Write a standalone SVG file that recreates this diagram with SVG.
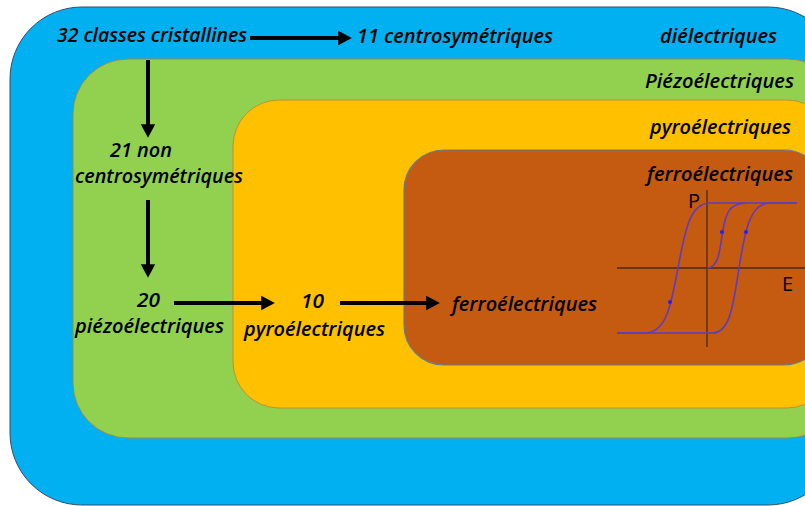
<svg xmlns="http://www.w3.org/2000/svg" width="805" height="506" viewBox="0 0 805 506">
<style>
text{font-family:"Open Sans","Liberation Sans",sans-serif;font-style:italic;font-weight:600;font-size:19px;fill:#000}
.ax{stroke:#4a2a10;stroke-width:1.3;fill:none}
.hy{stroke:#5b3cc4;stroke-width:1.6;fill:none}
.con{stroke:#000;stroke-width:4;fill:none}
</style>
<defs>
<marker id="ah" markerWidth="6" markerHeight="6" refX="0.2" refY="3" orient="auto" markerUnits="strokeWidth">
<path d="M0,1.2 L3.4,3 L0,4.8 Z" fill="#000"/>
</marker>
</defs>
<g id="dielectriques">
<rect x="10" y="7" width="830" height="498" rx="72" ry="72" fill="#00B0F0" stroke="#2f4f6f" stroke-width="1"/>
<text x="660" y="43" textLength="117" lengthAdjust="spacingAndGlyphs">diélectriques</text>
</g>
<g id="piezo">
<rect x="73" y="59" width="770" height="379" rx="55" ry="55" fill="#92D050" stroke="#9a8a4a" stroke-width="1"/>
<text x="645" y="88" textLength="149" lengthAdjust="spacingAndGlyphs">Piézoélectriques</text>
</g>
<g id="pyro">
<rect x="233" y="100" width="600" height="308" rx="46" ry="46" fill="#FFC000" stroke="#c09030" stroke-width="1"/>
<text x="650" y="134" textLength="141" lengthAdjust="spacingAndGlyphs">pyroélectriques</text>
</g>
<g id="ferro">
<rect x="404" y="150" width="420" height="215" rx="40" ry="40" fill="#C55A11" stroke="#6a7a90" stroke-width="1.2"/>
<text x="647" y="181" textLength="146" lengthAdjust="spacingAndGlyphs">ferroélectriques</text>
</g>
<g id="hysteresis">
<line class="ax" x1="617" y1="268" x2="805" y2="268"/>
<line class="ax" x1="707" y1="190" x2="707" y2="347"/>
<text x="688" y="208" style="font-style:normal;font-weight:400;font-size:20px">P</text>
<text x="782" y="291" style="font-style:normal;font-weight:400;font-size:20px">E</text>
<path class="hy" d="M797,203 L710,203 C690,203 685,230 678,268 C671,306 666,333 645,333 L617,333"/>
<path class="hy" d="M617,333 L712,333 C730,333 733,306 739,268 C745,230 750,203 770,203 L797,203"/>
<path class="hy" d="M707,268 C720,268 720,245 723,230 C726,212 730,204 745,203"/>
<circle cx="670" cy="302" r="2" fill="#2020ff"/>
<circle cx="722" cy="232" r="2" fill="#2020ff"/>
<circle cx="746" cy="232" r="2" fill="#2020ff"/>
</g>
<g id="n32"><text x="57" y="42" textLength="190" lengthAdjust="spacingAndGlyphs">32 classes cristallines</text></g>
<g id="n11"><text x="357" y="43" textLength="196" lengthAdjust="spacingAndGlyphs">11 centrosymétriques</text></g>
<g id="n21">
<text x="110" y="157" textLength="62" lengthAdjust="spacingAndGlyphs">21 non</text>
<text x="75" y="183" textLength="168" lengthAdjust="spacingAndGlyphs">centrosymétriques</text>
</g>
<g id="n20">
<text x="137" y="307" textLength="23" lengthAdjust="spacingAndGlyphs">20</text>
<text x="75" y="333" textLength="149" lengthAdjust="spacingAndGlyphs">piézoélectriques</text>
</g>
<g id="n10">
<text x="301" y="308" textLength="23" lengthAdjust="spacingAndGlyphs">10</text>
<text x="244" y="336" textLength="141" lengthAdjust="spacingAndGlyphs">pyroélectriques</text>
</g>
<g id="nferro"><text x="452" y="311" textLength="145" lengthAdjust="spacingAndGlyphs">ferroélectriques</text></g>
<g id="connectors">
<line class="con" x1="250" y1="38" x2="339" y2="38" marker-end="url(#ah)"/>
<line class="con" x1="148" y1="60" x2="148" y2="125" marker-end="url(#ah)"/>
<line class="con" x1="148" y1="200" x2="148" y2="265" marker-end="url(#ah)"/>
<line class="con" x1="174" y1="303" x2="262" y2="303" marker-end="url(#ah)"/>
<line class="con" x1="340" y1="303" x2="427" y2="303" marker-end="url(#ah)"/>
</g>
</svg>
